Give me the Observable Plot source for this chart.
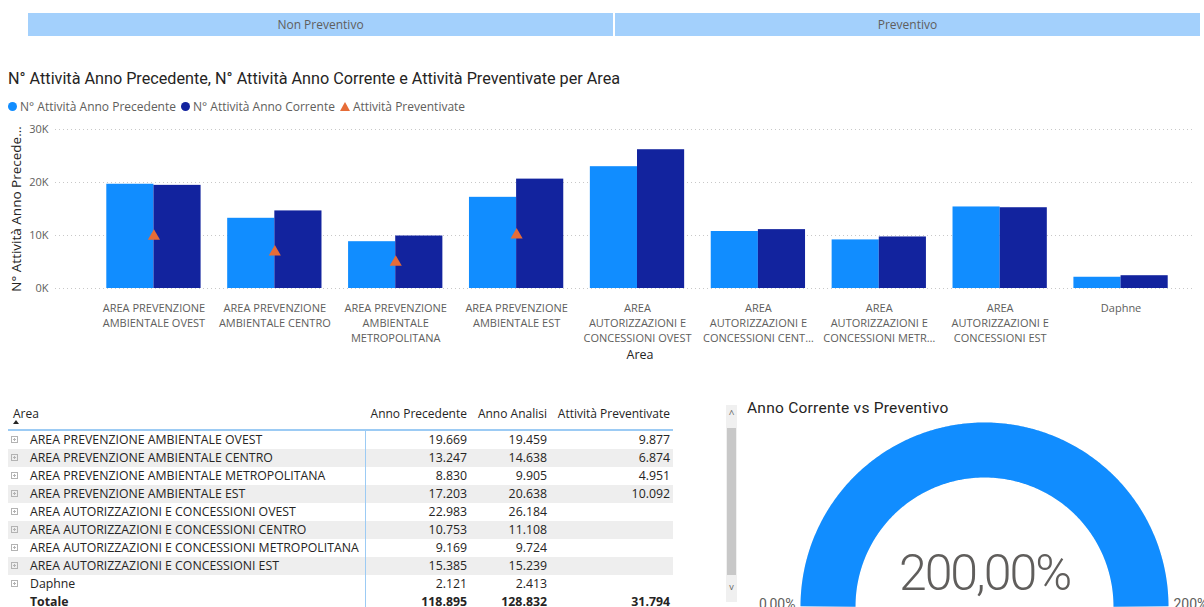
<!DOCTYPE html>
<html>
<head>
<meta charset="utf-8">
<script src="https://cdn.jsdelivr.net/npm/d3@7"></script>
<script src="https://cdn.jsdelivr.net/npm/@observablehq/plot@0.6"></script>
<style>
html,body{margin:0;padding:0;background:#fff;width:1204px;height:607px;overflow:hidden;font-family:"Open Sans",sans-serif;}
#root{position:relative;width:1204px;height:607px;overflow:hidden;}
.abs{position:absolute;}
.slicer{position:absolute;top:13px;height:23px;line-height:23px;background:#A3D0FC;color:#605E5C;font-size:12px;text-align:center;}
.title{position:absolute;font-family:Roboto,sans-serif;color:#252423;white-space:nowrap;}
.legend{position:absolute;left:8px;top:98px;font-size:12px;color:#605E5C;white-space:nowrap;display:flex;align-items:center;}
.legend .it{display:flex;align-items:center;margin-right:5px;}
.legend .sw{display:inline-block;width:9px;height:9px;border-radius:50%;margin-right:3px;}
.legend .tri{display:inline-block;width:0;height:0;border-left:5px solid transparent;border-right:5px solid transparent;border-bottom:9px solid #E66C37;margin-right:3px;}
.row{position:absolute;left:8px;width:665px;height:18px;line-height:18px;font-size:12.3px;color:#252423;display:flex;}
.row .c1{width:358px;padding-left:22px;box-sizing:border-box;position:relative;white-space:nowrap;}
.row .c2{width:104px;text-align:right;padding-right:3px;box-sizing:border-box;}
.row .c3{width:80px;text-align:right;padding-right:3px;box-sizing:border-box;}
.row .c4{width:123px;text-align:right;padding-right:3px;box-sizing:border-box;}
.row .ic{position:absolute;left:3px;top:5px;width:7px;height:7px;border:1px solid #B3B3B3;box-sizing:border-box;}
.row .ic:before{content:"";position:absolute;left:1px;top:2px;width:3px;height:1px;background:#B3B3B3;}
.row .ic:after{content:"";position:absolute;left:2px;top:1px;width:1px;height:3px;background:#B3B3B3;}
.hdr{position:absolute;top:405px;font-size:12px;color:#252423;white-space:nowrap;}
</style>
</head>
<body>
<div id="root"></div>
<script>
// ---------- data ----------
const slicerLabels = ["Non Preventivo", "Preventivo"];
const chartTitle = "N° Attività Anno Precedente, N° Attività Anno Corrente e Attività Preventivate per Area";
const seriesNames = ["N° Attività Anno Precedente", "N° Attività Anno Corrente", "Attività Preventivate"];
const areas = [
  "AREA PREVENZIONE AMBIENTALE OVEST",
  "AREA PREVENZIONE AMBIENTALE CENTRO",
  "AREA PREVENZIONE AMBIENTALE METROPOLITANA",
  "AREA PREVENZIONE AMBIENTALE EST",
  "AREA AUTORIZZAZIONI E CONCESSIONI OVEST",
  "AREA AUTORIZZAZIONI E CONCESSIONI CENTRO",
  "AREA AUTORIZZAZIONI E CONCESSIONI METROPOLITANA",
  "AREA AUTORIZZAZIONI E CONCESSIONI EST",
  "Daphne"
];
const xLabels = [
  "AREA PREVENZIONE\nAMBIENTALE OVEST",
  "AREA PREVENZIONE\nAMBIENTALE CENTRO",
  "AREA PREVENZIONE\nAMBIENTALE\nMETROPOLITANA",
  "AREA PREVENZIONE\nAMBIENTALE EST",
  "AREA\nAUTORIZZAZIONI E\nCONCESSIONI OVEST",
  "AREA\nAUTORIZZAZIONI E\nCONCESSIONI CENT…",
  "AREA\nAUTORIZZAZIONI E\nCONCESSIONI METR…",
  "AREA\nAUTORIZZAZIONI E\nCONCESSIONI EST",
  "Daphne"
];
const annoPrecedente = [19669, 13247, 8830, 17203, 22983, 10753, 9169, 15385, 2121];
const annoCorrente   = [19459, 14638, 9905, 20638, 26184, 11108, 9724, 15239, 2413];
const preventivate   = [9877, 6874, 4951, 10092, null, null, null, null, null];
const totals = [118895, 128832, 31794];
const yTicks = [0, 10000, 20000, 30000];
const yTitle = "N° Attività Anno Precede…";
const xTitle = "Area";
const tableHeaders = ["Area", "Anno Precedente", "Anno Analisi", "Attività Preventivate"];
const totalLabel = "Totale";
const gaugeTitle = "Anno Corrente vs Preventivo";
const gaugeValue = 2.0, gaugeMin = 0, gaugeMax = 2.0;
const gaugeValueLabel = "200,00%";
const gaugeMinLabel = "0,00%";
const gaugeMaxLabel = "200%";

const colors = ["#118DFF", "#12239E", "#E66C37"];
const root = document.getElementById("root");
const fmt = d3.formatLocale({decimal: ",", thousands: ".", grouping: [3], currency: ["€", ""]}).format(",d");

function el(tag, cls, style, text) {
  const e = document.createElement(tag);
  if (cls) e.className = cls;
  if (style) e.setAttribute("style", style);
  if (text != null) e.textContent = text;
  root.appendChild(e);
  return e;
}

// ---------- slicer ----------
el("div", "slicer", "left:28px;width:585px;", slicerLabels[0]);
el("div", "slicer", "left:615px;width:585px;", slicerLabels[1]);

// ---------- chart title & legend ----------
el("div", "title", "left:8px;top:69px;font-size:16.2px;", chartTitle);
const lg = el("div", "legend");
seriesNames.forEach((s, i) => {
  const it = document.createElement("span"); it.className = "it";
  const sw = document.createElement("span");
  if (i < 2) { sw.className = "sw"; sw.style.background = colors[i]; } else { sw.className = "tri"; }
  it.appendChild(sw);
  it.appendChild(document.createTextNode(s));
  lg.appendChild(it);
});

// ---------- bar chart: underlay (axis/grid) ----------
const W = 1204, H = 245, MT = 9, MB = 77;
const under = Plot.plot({
  width: W, height: H, marginTop: MT, marginBottom: MB, marginLeft: 55, marginRight: 10,
  style: {background: "transparent", fontFamily: "Open Sans", fontSize: "11px", color: "#605E5C", overflow: "visible"},
  y: {domain: [0, 30000]},
  marks: [
    Plot.gridY(yTicks, {stroke: "#C8C8C8", strokeOpacity: 1, strokeDasharray: "1,3"}),
    Plot.axisY(yTicks, {tickSize: 0, tickPadding: 7, tickFormat: d => d / 1000 + "K", label: null, fill: "#605E5C"}),
    Plot.text([yTitle], {text: d => d, frameAnchor: "left", textAnchor: "middle", rotate: -90, dx: -39, fill: "#252423", fontSize: 13.5}),
    Plot.text([xTitle], {text: d => d, frameAnchor: "bottom", dy: 70, dx: 15, fill: "#252423", fontSize: 12.5})
  ]
});
under.style.position = "absolute"; under.style.left = "0px"; under.style.top = "120px";
root.appendChild(under);

// ---------- bar chart: bars ----------
const long = [];
areas.forEach((a, i) => {
  long.push({area: a, series: seriesNames[0], value: annoPrecedente[i]});
  long.push({area: a, series: seriesNames[1], value: annoCorrente[i]});
});
const tri = areas.map((a, i) => ({area: a, value: preventivate[i]})).filter(d => d.value != null);
const bars = Plot.plot({
  width: W, height: H, marginTop: MT, marginBottom: MB, marginLeft: 93, marginRight: 23,
  style: {background: "transparent", fontFamily: "Open Sans", fontSize: "11px", color: "#605E5C", overflow: "visible"},
  fx: {domain: areas, paddingInner: 0.22, paddingOuter: 0.11, round: false, label: null},
  x: {domain: seriesNames.slice(0, 2), padding: 0, round: false, axis: null},
  y: {domain: [0, 30000], axis: null},
  color: {domain: seriesNames, range: colors},
  marks: [
    Plot.barY(long, {fx: "area", x: "series", y: "value", fill: "series"}),
    Plot.dot(tri, {fx: "area", y: "value", symbol: "triangle", fill: colors[2], r: 4.5}),
    Plot.axisFx({anchor: "bottom", tickSize: 0, tickPadding: 13, lineHeight: 1.36, tickFormat: a => xLabels[areas.indexOf(a)], label: null, fill: "#605E5C"})
  ]
});
bars.style.position = "absolute"; bars.style.left = "0px"; bars.style.top = "120px";
root.appendChild(bars);

// ---------- table ----------
el("div", "hdr", "left:13px;", tableHeaders[0]);
el("div", "abs", "left:13px;top:420px;width:0;height:0;border-left:3px solid transparent;border-right:3px solid transparent;border-bottom:4px solid #252423;");
const hdrRight = [467, 547, 670];
for (let k = 1; k < 4; k++) {
  el("div", "hdr", `right:${1204 - hdrRight[k - 1]}px;`, tableHeaders[k]);
}
el("div", "abs", "left:8px;top:429px;width:665px;height:2px;background:#9CCBF4;");
const rowTop = 431, rowH = 18;
areas.forEach((a, i) => {
  const r = el("div", "row", `top:${rowTop + i * rowH}px;` + (i % 2 === 1 ? "background:#EEEEEE;" : ""));
  const c1 = document.createElement("div"); c1.className = "c1";
  const ic = document.createElement("span"); ic.className = "ic"; c1.appendChild(ic);
  c1.appendChild(document.createTextNode(a));
  r.appendChild(c1);
  [annoPrecedente[i], annoCorrente[i], preventivate[i]].forEach((v, k) => {
    const c = document.createElement("div"); c.className = "c" + (k + 2);
    c.textContent = v == null ? "" : fmt(v);
    r.appendChild(c);
  });
});
{
  const r = el("div", "row", `top:${rowTop + areas.length * rowH}px;font-weight:bold;`);
  const c1 = document.createElement("div"); c1.className = "c1"; c1.textContent = totalLabel; r.appendChild(c1);
  totals.forEach((v, k) => { const c = document.createElement("div"); c.className = "c" + (k + 2); c.textContent = fmt(v); r.appendChild(c); });
}
el("div", "abs", "left:365px;top:430px;width:1px;height:177px;background:#9CCBF4;");

// scrollbar
el("div", "abs", "left:726px;top:405px;width:11px;height:197px;background:#F0F0F0;");
el("div", "abs", "left:727px;top:428px;width:9px;height:147px;background:#C8C8C8;");
el("div", "abs", "left:727px;top:409px;width:9px;font-size:10px;line-height:10px;color:#666;text-align:center;", "^");
el("div", "abs", "left:727px;top:582px;width:9px;font-size:9px;line-height:10px;color:#666;text-align:center;", "v");

// ---------- gauge ----------
el("div", "title", "left:747px;top:399px;font-size:15.5px;letter-spacing:0.25px;", gaugeTitle);
const rMid = 0.7825;
const frac = (gaugeValue - gaugeMin) / (gaugeMax - gaugeMin);
const track = d3.range(0, 181).map(k => { const t = Math.PI - (k / 180) * Math.PI; return {x: Math.cos(t) * rMid, y: Math.sin(t) * rMid}; });
const arc = d3.range(0, 181).map(k => { const t = Math.PI - (k / 180) * Math.PI * frac; return {x: Math.cos(t) * rMid, y: Math.sin(t) * rMid}; });
const gauge = Plot.plot({
  width: 500, height: 201, marginTop: 0, marginBottom: 1, marginLeft: 0, marginRight: 0,
  style: {background: "transparent", fontFamily: "Roboto", overflow: "visible"},
  x: {domain: [-1.25, 1.25], axis: null},
  y: {domain: [0, 1], axis: null},
  marks: [
    Plot.line(track, {x: "x", y: "y", stroke: "#E6E6E6", strokeWidth: 55, strokeLinecap: "butt", strokeLinejoin: "miter"}),
    Plot.line(arc, {x: "x", y: "y", stroke: colors[0], strokeWidth: 55, strokeLinecap: "butt", strokeLinejoin: "miter"}),
    Plot.text([gaugeValueLabel], {x: () => 0, y: () => 0, text: d => d, fontSize: 50, fontWeight: 300, fill: "#605E5C", lineAnchor: "bottom", dy: -17}),
    Plot.text([gaugeMinLabel], {x: () => -0.92, y: () => 0, text: d => d, fontSize: 14, fill: "#605E5C", textAnchor: "end", lineAnchor: "bottom", dx: -5, dy: 2}),
    Plot.text([gaugeMaxLabel], {x: () => 0.92, y: () => 0, text: d => d, fontSize: 14, fill: "#605E5C", textAnchor: "start", lineAnchor: "bottom", dx: 5, dy: 2})
  ]
});
gauge.querySelectorAll("text").forEach(t => {
  if (t.textContent === gaugeValueLabel) t.style.letterSpacing = "-2px";
});
gauge.style.position = "absolute"; gauge.style.left = "734px"; gauge.style.top = "406px";
root.appendChild(gauge);
</script>
</body>
</html>
